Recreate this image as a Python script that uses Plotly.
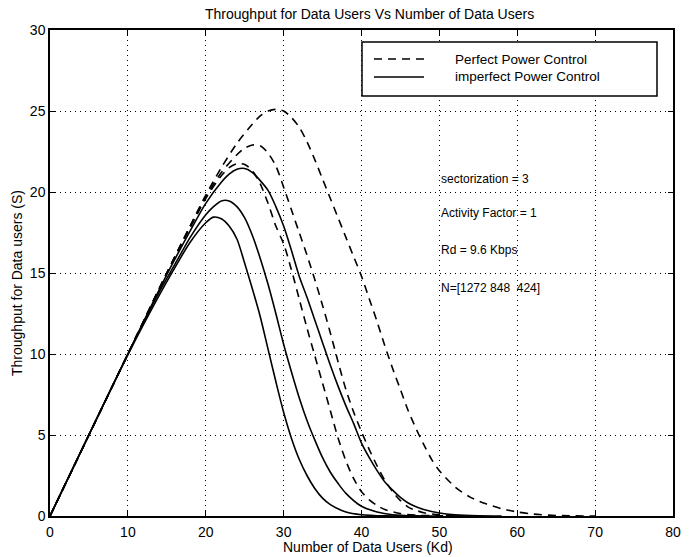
import plotly.graph_objects as go

# ---- data ----
perfect_x1 = [0, 10, 15, 18, 20, 22, 24, 26, 27, 28, 29, 30, 31, 32, 33, 34, 35, 36, 37, 38, 39, 40, 41, 42, 43, 44, 45, 46, 47, 48, 49, 50, 52, 54, 56, 58, 60, 62, 65, 70]
perfect_y1 = [0, 10, 15, 17.9, 19.8, 21.5, 23.0, 24.2, 24.7, 25.0, 25.1, 25.0, 24.6, 24.0, 23.1, 22.0, 20.8, 19.6, 18.4, 17.2, 16.0, 14.8, 13.4, 12.0, 10.5, 9.1, 7.8, 6.5, 5.4, 4.4, 3.5, 2.8, 1.8, 1.15, 0.75, 0.45, 0.25, 0.12, 0.03, 0.0]

perfect_x2 = [0, 10, 15, 18, 20, 22, 24, 25, 26, 27, 28, 29, 30, 31, 32, 33, 34, 35, 36, 37, 38, 39, 40, 41, 42, 43, 44, 45, 46, 47, 48, 50, 53, 56]
perfect_y2 = [0, 10, 15, 17.9, 19.7, 21.2, 22.3, 22.7, 22.9, 22.85, 22.4, 21.6, 20.3, 18.9, 17.5, 16.1, 14.6, 13.0, 11.3, 9.5, 7.8, 6.4, 5.2, 4.1, 3.1, 2.2, 1.5, 0.95, 0.55, 0.35, 0.2, 0.07, 0.01, 0.0]

perfect_x3 = [0, 10, 15, 18, 20, 22, 23, 24, 25, 26, 27, 28, 29, 30, 31, 32, 33, 34, 35, 36, 37, 38, 39, 40, 41, 42, 43, 45, 47, 50, 53]
perfect_y3 = [0, 10, 15, 17.8, 19.6, 21.0, 21.5, 21.75, 21.7, 21.3, 20.5, 19.3, 17.9, 16.8, 15.2, 13.4, 11.6, 9.9, 8.2, 6.5, 4.8, 3.4, 2.3, 1.5, 1.0, 0.65, 0.4, 0.15, 0.05, 0.01, 0.0]

imperfect_x1 = [0, 10, 15, 18, 20, 22, 23, 24, 25, 26, 27, 28, 29, 30, 31, 32, 33, 34, 35, 36, 37, 38, 39, 40, 41, 42, 43, 44, 45, 46, 47, 48, 50, 52, 55, 58]
imperfect_y1 = [0, 10, 14.9, 17.6, 19.3, 20.6, 21.1, 21.4, 21.45, 21.2, 20.7, 20.1, 19.1, 17.9, 16.4, 14.8, 13.5, 12.1, 10.7, 9.3, 8.0, 6.8, 5.7, 4.5, 3.6, 2.8, 2.1, 1.6, 1.15, 0.8, 0.57, 0.4, 0.18, 0.07, 0.01, 0.0]

imperfect_x2 = [0, 10, 14, 16, 18, 20, 21, 22, 23, 24, 25, 26, 27, 28, 29, 30, 31, 32, 33, 34, 35, 36, 37, 38, 40, 42, 44, 47, 50]
imperfect_y2 = [0, 10, 13.8, 15.5, 17.2, 18.6, 19.1, 19.45, 19.45, 19.1, 18.4, 17.3, 15.9, 14.3, 12.5, 10.6, 8.9, 7.3, 5.9, 4.7, 3.6, 2.7, 2.0, 1.4, 0.6, 0.25, 0.08, 0.01, 0.0]

imperfect_x3 = [0, 10, 14, 16, 18, 20, 21, 22, 23, 24, 25, 26, 27, 28, 29, 30, 31, 32, 33, 34, 35, 36, 38, 40, 43, 46]
imperfect_y3 = [0, 9.95, 13.6, 15.3, 16.9, 18.1, 18.45, 18.35, 17.9, 17.1, 15.6, 14.0, 12.3, 10.3, 8.3, 6.4, 4.8, 3.5, 2.5, 1.7, 1.1, 0.7, 0.25, 0.08, 0.01, 0.0]

legend_labels = ["Perfect Power Control", "imperfect Power Control"]
note_texts = ["sectorization = 3", "Activity Factor = 1", "Rd = 9.6 Kbps", "N=[1272 848  424]"]
note_y = [20.8, 18.7, 16.4, 14.1]
note_x = 50

x_ticks = [0, 10, 20, 30, 40, 50, 60, 70, 80]
y_ticks = [0, 5, 10, 15, 20, 25, 30]

title_text = "Throughput for Data Users Vs Number of Data Users"
x_title = "Number of Data Users (Kd)"
y_title = "Throughput for Data users (S)"

FONT = "Liberation Sans, Arial, Helvetica, sans-serif"
DASH = "8px,6px"

# plot area in pixels (for placing paper-referenced text)
L, R, T, B = 50, 673, 30, 516
def px_x(p):
    return (p - L) / (R - L)
def px_y(p):
    return (B - p) / (B - T)

fig = go.Figure()
for xs, ys in [(perfect_x1, perfect_y1), (perfect_x2, perfect_y2), (perfect_x3, perfect_y3)]:
    fig.add_trace(go.Scatter(x=xs, y=ys, mode="lines", showlegend=False,
                             line=dict(color="black", width=1.6, dash=DASH, shape="spline", smoothing=0.8)))
for xs, ys in [(imperfect_x1, imperfect_y1), (imperfect_x2, imperfect_y2), (imperfect_x3, imperfect_y3)]:
    fig.add_trace(go.Scatter(x=xs, y=ys, mode="lines", showlegend=False,
                             line=dict(color="black", width=1.6, shape="spline", smoothing=0.8)))

# legend box (drawn manually to match the MATLAB-style legend)
fig.add_shape(type="rect", xref="paper", yref="paper", x0=px_x(362), x1=px_x(657), y0=px_y(96), y1=px_y(42),
              line=dict(color="black", width=1.5), fillcolor="white", layer="above")
leg_rows = [px_y(59), px_y(77)]
for i, lab in enumerate(legend_labels):
    fig.add_shape(type="line", xref="paper", yref="paper", x0=px_x(374), x1=px_x(424), y0=leg_rows[i], y1=leg_rows[i],
                  line=dict(color="black", width=1.5, dash=DASH if i == 0 else "solid"), layer="above")
    fig.add_annotation(text=lab, xref="paper", yref="paper", x=px_x(453), y=leg_rows[i], xanchor="left",
                       yanchor="middle", showarrow=False, font=dict(family=FONT, size=13.5, color="black"))

for t, yv in zip(note_texts, note_y):
    fig.add_annotation(text=t, x=note_x, y=yv, xref="x", yref="y", xanchor="left", yanchor="middle",
                       showarrow=False, font=dict(family=FONT, size=12, color="black"))

# axis titles and chart title
fig.add_annotation(text=x_title, xref="paper", yref="paper", x=px_x(368), y=px_y(547), xanchor="center",
                   yanchor="middle", showarrow=False, font=dict(family=FONT, size=14, color="black"))
fig.add_annotation(text=y_title, xref="paper", yref="paper", x=px_x(17), y=px_y(283), xanchor="center",
                   yanchor="middle", textangle=-90, showarrow=False, font=dict(family=FONT, size=14, color="black"))
fig.add_annotation(text=title_text, xref="paper", yref="paper", x=px_x(370), y=px_y(14), xanchor="center",
                   yanchor="middle", showarrow=False, font=dict(family=FONT, size=14, color="black"))

axis_common = dict(showline=True, linecolor="black", linewidth=1.5, mirror="ticks",
                   ticks="inside", ticklen=5, tickcolor="black", tickwidth=1,
                   showgrid=True, gridcolor="black", gridwidth=1, griddash="1px,4px",
                   zeroline=False, tickfont=dict(family=FONT, size=14, color="black"))

fig.update_xaxes(range=[0, 80], tickvals=x_ticks, ticktext=[str(v) for v in x_ticks],
                 ticklabelstandoff=2, **axis_common)
fig.update_yaxes(range=[0, 30], tickvals=y_ticks, ticktext=[str(v) for v in y_ticks],
                 **axis_common)

fig.update_layout(
    width=694, height=557,
    margin=dict(l=L, r=694 - R, t=T, b=557 - B),
    paper_bgcolor="white", plot_bgcolor="white",
    showlegend=False,
)

fig.write_html("out.html")
